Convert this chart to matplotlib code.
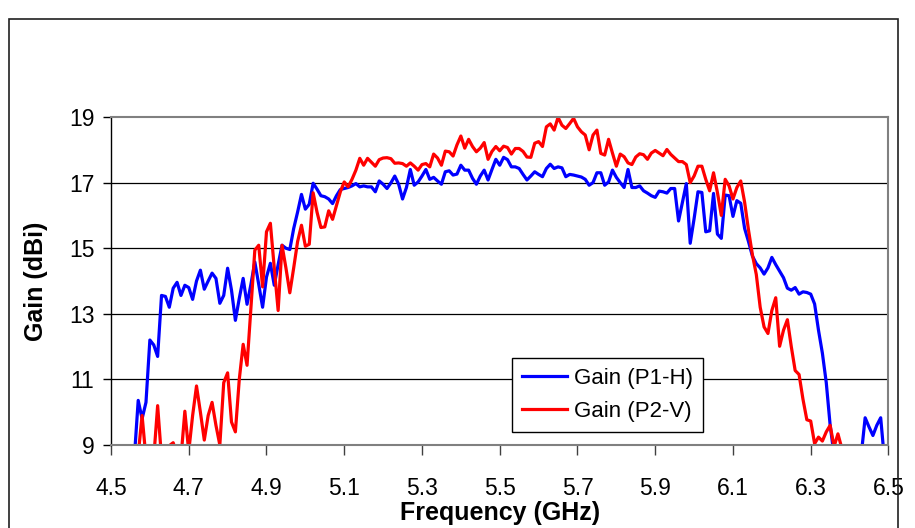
import numpy as np
import matplotlib
matplotlib.use('Agg')
import matplotlib.pyplot as plt
from matplotlib.patches import Rectangle

# DATA
freq = np.round(np.arange(4.56, 6.505, 0.01), 2)     # (GHz)

gain_p1h = [
    8.6, 10.36, 9.8, 10.3, 12.2, 12.05, 11.7, 13.56, 13.53, 13.2,
    13.78, 13.96, 13.56, 13.87, 13.8, 13.44, 14.0, 14.33, 13.75, 14.0,
    14.24, 14.08, 13.32, 13.56, 14.39, 13.72, 12.8, 13.47, 14.08, 13.29,
    13.9, 14.58, 13.9, 13.2, 14.12, 14.54, 13.87, 14.5, 15.09, 15.0,
    14.96, 15.6, 16.1, 16.64, 16.19, 16.34, 16.98, 16.8, 16.6, 16.57,
    16.5, 16.36, 16.6, 16.79, 16.82, 16.85, 16.9, 16.97, 16.87, 16.9,
    16.87, 16.87, 16.72, 17.05, 16.95, 16.82, 16.99, 17.2, 16.95, 16.5,
    16.85, 17.4, 16.92, 17.02, 17.2, 17.4, 17.1, 17.16, 17.05, 16.95,
    17.33, 17.36, 17.23, 17.26, 17.53, 17.38, 17.38, 17.13, 16.95, 17.2,
    17.38, 17.08, 17.4, 17.71, 17.53, 17.77, 17.7, 17.48, 17.48, 17.43,
    17.25, 17.08, 17.2, 17.33, 17.25, 17.18, 17.43, 17.56, 17.43, 17.48,
    17.45, 17.18, 17.25, 17.23, 17.2, 17.17, 17.1, 16.92, 17.0, 17.3,
    17.3, 16.92, 17.02, 17.38, 17.16, 17.0, 16.85, 17.4, 16.85, 16.85,
    16.9, 16.75, 16.68, 16.6, 16.55, 16.74, 16.72, 16.68, 16.82, 16.82,
    15.83, 16.4, 16.97, 15.15, 15.9, 16.72, 16.7, 15.5, 15.53, 16.67,
    15.43, 15.3, 16.62, 16.6, 15.97, 16.45, 16.37, 15.6, 15.2, 14.76,
    14.53, 14.4, 14.21, 14.4, 14.72, 14.5, 14.3, 14.1, 13.78, 13.72,
    13.8, 13.6, 13.67, 13.65, 13.6, 13.3, 12.5, 11.8, 10.9, 9.6,
    8.7, 8.5, 8.5, 8.5, 8.5, 8.5, 8.5, 8.7, 9.83, 9.55,
    9.29, 9.6, 9.83, 8.5, 8.3,
]

gain_p2v = [
    8.5, 8.7, 9.9, 8.6, 8.5, 8.6, 10.2, 8.6, 8.7, 8.98,
    9.07, 8.7, 8.6, 10.03, 8.8, 9.9, 10.8, 10.0, 9.15, 9.9,
    10.3, 9.6, 9.0, 10.9, 11.2, 9.7, 9.4, 11.0, 12.07, 11.43,
    13.2, 14.94, 15.09, 13.82, 15.5, 15.76, 14.4, 13.1, 15.09, 14.4,
    13.64, 14.4, 15.2, 15.7, 15.06, 15.12, 16.69, 16.1, 15.63, 15.65,
    16.14, 15.88, 16.3, 16.72, 17.02, 16.87, 17.1, 17.38, 17.74, 17.53,
    17.74, 17.62, 17.5, 17.7, 17.75, 17.76, 17.73, 17.59, 17.6, 17.58,
    17.5, 17.6, 17.5, 17.38, 17.55, 17.58, 17.48, 17.87, 17.75, 17.53,
    17.96, 17.94, 17.81, 18.15, 18.42, 18.05, 18.32, 18.1, 17.94, 18.05,
    18.22, 17.71, 17.95, 18.1, 17.97, 18.11, 18.07, 17.87, 18.04, 18.04,
    17.95, 17.78, 17.77, 18.2, 18.25, 18.1, 18.7, 18.79, 18.6, 18.99,
    18.75, 18.65, 18.8, 18.96, 18.7, 18.55, 18.45, 18.0, 18.45, 18.6,
    17.89, 17.84, 18.32, 17.9, 17.5, 17.87, 17.79, 17.6, 17.55, 17.78,
    17.88, 17.85, 17.71, 17.9, 17.98, 17.9, 17.82, 18.01, 17.86, 17.75,
    17.64, 17.64, 17.55, 17.0, 17.2, 17.5, 17.5, 17.1, 16.75, 17.3,
    16.7, 16.0, 17.1, 16.9, 16.5, 16.85, 17.05, 16.4, 15.55, 14.8,
    14.2, 13.2, 12.6, 12.4, 13.1, 13.49, 12.01, 12.5, 12.82, 12.0,
    11.27, 11.15, 10.4, 9.77, 9.73, 9.04, 9.24, 9.12, 9.4, 9.6,
    8.95, 9.34, 8.9, 8.6, 8.5, 8.5, 8.5, 8.5, 8.5, 8.5,
    8.5, 8.5, 8.5, 8.5, 8.5,
]

x_ticks = [4.5, 4.7, 4.9, 5.1, 5.3, 5.5, 5.7, 5.9, 6.1, 6.3, 6.5]
y_ticks = [9, 11, 13, 15, 17, 19]

plt.rcParams['font.family'] = ['Liberation Sans', 'DejaVu Sans']

fig = plt.figure(figsize=(9.15, 5.28), dpi=100)
ax = fig.add_axes([0.1213, 0.1572, 0.8497, 0.6212])

# outer chart frame
fig.add_artist(Rectangle((0.0098, -0.02), 0.9716, 0.984, transform=fig.transFigure,
                         fill=False, edgecolor='#202020', linewidth=1.2))

ax.plot(freq, gain_p1h, color='#0000ff', linewidth=2.3, label='Gain (P1-H)')
ax.plot(freq, gain_p2v, color='#ff0000', linewidth=2.3, label='Gain (P2-V)')

ax.set_xlim(4.5, 6.5)
ax.set_ylim(9, 19)
ax.set_xticks(x_ticks)
ax.set_xticklabels(['%.1f' % t for t in x_ticks])
ax.set_yticks(y_ticks)
ax.set_yticklabels([str(t) for t in y_ticks])

for g in y_ticks[1:-1]:
    ax.axhline(g, color='black', linewidth=0.9, zorder=0)

for side in ['top', 'right']:
    ax.spines[side].set_color('#808080')
    ax.spines[side].set_linewidth(1.5)
ax.spines['left'].set_color('black')
ax.spines['left'].set_linewidth(1.0)
ax.spines['bottom'].set_color('#808080')
ax.spines['bottom'].set_linewidth(1.5)

ax.tick_params(axis='y', direction='out', length=6, width=1, colors='black',
               labelsize=16.5, pad=6)
ax.tick_params(axis='x', direction='out', length=7, width=1, color='#404040',
               labelcolor='black', labelsize=16.5, pad=16)

ax.set_xlabel('Frequency (GHz)', fontsize=18, fontweight='bold', labelpad=1)
ax.set_ylabel('Gain (dBi)', fontsize=18, fontweight='bold', labelpad=15)

leg = ax.legend(loc='lower left', bbox_to_anchor=(0.516, 0.04), borderaxespad=0,
                fontsize=16, fancybox=False, framealpha=1, edgecolor='black',
                handlelength=2.0, handletextpad=0.35, borderpad=0.45, labelspacing=0.55)
leg.get_frame().set_linewidth(1.0)

fig.savefig('out.png', dpi=100)
